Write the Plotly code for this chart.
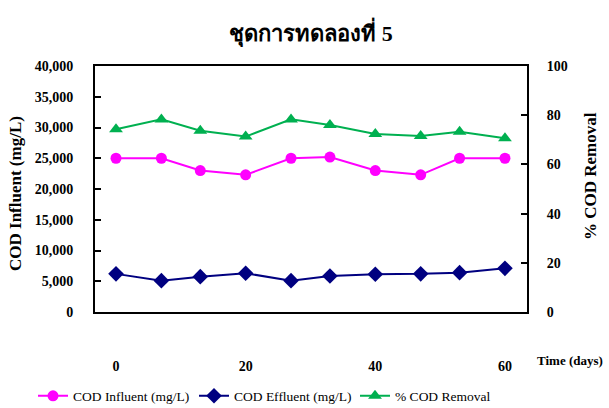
import plotly.graph_objects as go

# Sampling days over the 60-day run
days = [0, 7, 13, 20, 27, 33, 40, 47, 53, 60]

# COD concentrations (mg/L)
cod_influent = [25000, 25000, 23000, 22300, 25000, 25200, 23000, 22300, 25000, 25000]
cod_effluent = [6200, 5100, 5750, 6300, 5100, 5850, 6150, 6200, 6400, 7100]

# Removal efficiency (%)
cod_removal = [74.3, 78.3, 73.7, 71.3, 78.3, 76.0, 72.4, 71.5, 73.3, 70.6]

x_ticks = [0, 20, 40, 60]
left_ticks = list(range(0, 40001, 5000))
right_ticks = [0, 20, 40, 60, 80, 100]

SERIF = "Times New Roman"
TITLE_FONT = "Times New Roman"

W, H = 609, 408
PL, PR, PT, PB = 95, 527, 66, 312   # plot-area edges in pixels
PW, PH = PR - PL, PB - PT


def px_x(px):
    return (px - PL) / PW


def px_y(py):
    return (PB - py) / PH


fig = go.Figure()

fig.add_trace(go.Scatter(
    x=days, y=cod_influent, name="COD Influent (mg/L)",
    mode="lines+markers",
    line=dict(color="#FF00FF", width=2),
    marker=dict(symbol="circle", size=11, color="#FF00FF"),
))
fig.add_trace(go.Scatter(
    x=days, y=cod_effluent, name="COD Effluent (mg/L)",
    mode="lines+markers",
    line=dict(color="#000080", width=2),
    marker=dict(symbol="diamond", size=12, color="#000080"),
))
fig.add_trace(go.Scatter(
    x=days, y=cod_removal, name="% COD Removal",
    mode="lines+markers", yaxis="y2",
    line=dict(color="#00B050", width=2),
    marker=dict(symbol="triangle-up", size=12, color="#00B050"),
))

fig.update_layout(
    width=W, height=H,
    margin=dict(l=PL, r=W - PR, t=PT, b=H - PB, autoexpand=False),
    paper_bgcolor="white", plot_bgcolor="white",
    font=dict(family=SERIF, color="black"),
    title=dict(
        text="<b>ชุดการทดลองที่ 5</b>",
        font=dict(family=TITLE_FONT, size=22, color="black"),
        x=0.5, xref="paper", y=1 - 33 / H, yanchor="middle",
    ),
    xaxis=dict(
        range=[-3.24, 63.4], automargin=False,
        tickvals=x_ticks, ticktext=[str(v) for v in x_ticks],
        ticks="", showgrid=False, zeroline=False,
        showline=True, linecolor="black", linewidth=2, mirror=True,
        ticklabelstandoff=40,
        tickfont=dict(family=SERIF, size=14, weight="bold"),
    ),
    yaxis=dict(
        range=[0, 40000], tickvals=left_ticks, tickformat=",",
        automargin=False,
        ticks="inside", ticklen=6, tickwidth=2, tickcolor="black",
        showgrid=False, zeroline=False,
        showline=True, linecolor="black", linewidth=2,
        ticklabelstandoff=17,
        tickfont=dict(family=SERIF, size=14, weight="bold"),
    ),
    yaxis2=dict(
        range=[0, 100], tickvals=right_ticks, overlaying="y", side="right",
        automargin=False,
        ticks="inside", ticklen=6, tickwidth=2, tickcolor="black",
        showgrid=False, zeroline=False,
        showline=True, linecolor="black", linewidth=2,
        ticklabelstandoff=15,
        tickfont=dict(family=SERIF, size=14, weight="bold"),
    ),
    legend=dict(
        orientation="h",
        x=px_x(33), xanchor="left",
        y=px_y(396), yanchor="middle",
        font=dict(family=SERIF, size=13.5),
        entrywidth=116, entrywidthmode="pixels",
        itemwidth=30, bgcolor="rgba(0,0,0,0)",
    ),
    showlegend=True,
)

# Axis titles
fig.add_annotation(
    text="<b>COD Influent (mg/L)</b>", xref="paper", yref="paper",
    x=px_x(15), y=px_y(194), textangle=-90, showarrow=False,
    font=dict(family=SERIF, size=17), xanchor="center", yanchor="middle",
)
fig.add_annotation(
    text="<b>% COD Removal</b>", xref="paper", yref="paper",
    x=px_x(590), y=px_y(176), textangle=-90, showarrow=False,
    font=dict(family=SERIF, size=17), xanchor="center", yanchor="middle",
)
fig.add_annotation(
    text="<b>Time (days)</b>", xref="paper", yref="paper",
    x=px_x(570), y=px_y(360),
    showarrow=False, font=dict(family=SERIF, size=13),
    xanchor="center", yanchor="middle",
)

fig.write_html("out.html")
